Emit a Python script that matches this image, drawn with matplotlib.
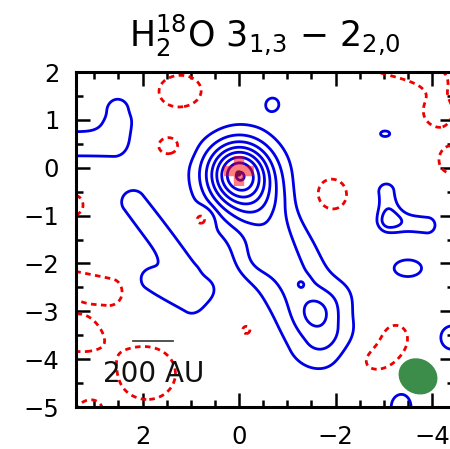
import numpy as np
import matplotlib
matplotlib.use("Agg")
import matplotlib.pyplot as plt
from matplotlib.patches import Ellipse
from matplotlib.ticker import MultipleLocator

# ---- emission model (offsets in arcsec, intensity in units of the contour step) ----
# bright compact core (gaussian) sitting on a broader halo
core_x, core_y = 0.0, -0.13
core_peak = 6.8
core_sigma = 0.46
halo_peak = 0.8
halo_sigma = 1.0

# elongated ridges: start, end, amplitude, gaussian width
ridge_x0 = [-0.45, 3.70, 2.48, 2.20, 1.85, -3.05, -3.12, -3.00, 3.60]
ridge_y0 = [-1.00, 0.50, 1.05, -0.72, -2.35, -0.50, -1.12, 2.15, -2.35]
ridge_x1 = [-1.70, 2.60, 2.50, 1.10, 1.00, -3.12, -3.90, -4.10, 2.65]
ridge_y1 = [-3.50, 0.50, 1.22, -2.20, -2.85, -1.05, -1.20, 1.85, -2.55]
ridge_amp = [2.3, 1.5, 1.4, 1.5, 1.5, 1.5, 1.5, -1.4, -1.3]
ridge_w = [0.55, 0.28, 0.27, 0.25, 0.24, 0.18, 0.18, 0.22, 0.30]

# compact knots (positive emission and negative residuals)
knot_x = [-1.62, -1.29, -0.30, 0.70, -0.70, -3.03, -3.50, -4.42, -3.36,
          -2.15,
          1.20, 1.45, 3.45, 0.77, -1.87, -4.12, -4.42, 3.45, 1.90, 3.15,
          -0.17, -3.23, -2.76]
knot_y = [-3.03, -2.43, -1.95, -2.55, 1.34, 0.71, -2.10, -3.55, -5.00,
          -2.65,
          1.58, 0.45, -0.78, -1.07, -0.56, 1.18, 0.15, -3.45, -4.30, -5.15,
          -3.38, -3.53, -4.03]
knot_amp = [1.15, 0.78, 0.6, 1.2, 0.95, 1.12, 1.3, 1.4, 1.4,
            0.5,
            -1.6, -1.8, -1.3, -2.0, -1.6, -1.5, -1.4, -1.3, -1.35, -1.2,
            -1.2, -1.3, -1.3]
knot_sx = [0.28, 0.10, 0.30, 0.20, 0.21, 0.20, 0.39, 0.30, 0.25,
           0.30,
           0.50, 0.23, 0.30, 0.15, 0.40, 0.33, 0.33, 0.55, 0.75, 0.30,
           0.20, 0.34, 0.40]
knot_sy = [0.28, 0.10, 0.30, 0.20, 0.21, 0.12, 0.24, 0.30, 0.33,
           0.30,
           0.38, 0.19, 0.30, 0.15, 0.40, 0.33, 0.33, 0.42, 0.70, 0.30,
           0.20, 0.34, 0.28]

pos_levels = [1, 2, 3, 4, 5, 6, 7, 8]
neg_levels = [-1]

# continuum peak, beam and scale bar
source_x, source_y = 0.0, -0.06
beam_x, beam_y = -3.71, -4.36
beam_major, beam_minor, beam_pa = 0.83, 0.73, 30
distance_pc = 240.0
bar_au = 200.0

# ---- build the map ----
x = np.arange(-4.8, 3.9, 0.02)
y = np.arange(-5.5, 2.5, 0.02)
X, Y = np.meshgrid(x, y)

r2 = (X - core_x) ** 2 + (Y - core_y) ** 2
Z = core_peak * np.exp(-r2 / (2 * core_sigma ** 2))
Z += halo_peak * np.exp(-r2 / (2 * halo_sigma ** 2))

for x0, y0, x1, y1, a, w in zip(ridge_x0, ridge_y0, ridge_x1, ridge_y1,
                                ridge_amp, ridge_w):
    dx, dy = x1 - x0, y1 - y0
    t = np.clip(((X - x0) * dx + (Y - y0) * dy) / (dx * dx + dy * dy), 0, 1)
    d2 = (X - x0 - t * dx) ** 2 + (Y - y0 - t * dy) ** 2
    Z += a * np.exp(-d2 / (2 * w * w))

for kx, ky, a, sx, sy in zip(knot_x, knot_y, knot_amp, knot_sx, knot_sy):
    Z += a * np.exp(-((X - kx) ** 2 / (2 * sx * sx) + (Y - ky) ** 2 / (2 * sy * sy)))

# ---- figure ----
fig = plt.figure(figsize=(4.5, 4.49), dpi=100)
ax = fig.add_axes([76 / 450, 1 - 407 / 449, 378 / 450, 335 / 449])

ax.contour(X, Y, Z, levels=pos_levels, colors="#0000e6", linewidths=2.0,
           linestyles="solid", zorder=2)
ax.contour(X, Y, Z, levels=neg_levels, colors="#ee0000", linewidths=2.0,
           linestyles=[(0, (2.0, 1.6))], zorder=2)

# continuum position marker, translucent over the contours
ax.plot(source_x, source_y, marker="+", markersize=22, markeredgewidth=7.5,
        color="#ff0000", alpha=0.5, zorder=4)
ax.plot(source_x + 0.03, source_y - 0.05, marker="o", markersize=3.5,
        color="#7a1040", zorder=4.5)

ax.add_patch(Ellipse((beam_x, beam_y), beam_major, beam_minor, angle=beam_pa,
                     facecolor="#3c8c4a", edgecolor="none", zorder=5))

bar_len = bar_au / distance_pc
bar_x = 1.78
ax.plot([bar_x - bar_len / 2, bar_x + bar_len / 2], [-3.63, -3.63],
        color="#444444", lw=1.3, zorder=5)
ax.text(bar_x, -4.32, f"{bar_au:.0f} AU", ha="center", va="center",
        fontsize=20, color="#111111", zorder=6)

ax.set_xlim(3.38, -4.456)
ax.set_ylim(-5, 2)

ax.xaxis.set_major_locator(MultipleLocator(2))
ax.xaxis.set_minor_locator(MultipleLocator(0.5))
ax.yaxis.set_major_locator(MultipleLocator(1))
ax.yaxis.set_minor_locator(MultipleLocator(0.5))
ax.tick_params(which="both", direction="in", top=True, right=True,
               width=1.8, color="black", labelsize=17.5)
ax.tick_params(which="major", length=10)
ax.tick_params(which="minor", length=5)
ax.tick_params(axis="x", pad=13)
ax.tick_params(axis="y", pad=12)
for sp in ax.spines.values():
    sp.set_linewidth(2.2)

ax.set_title(r"H$_2^{18}$O 3$_{1{,}3}$ $-$ 2$_{2{,}0}$", fontsize=25, pad=18)

fig.savefig("out.png", dpi=100)
